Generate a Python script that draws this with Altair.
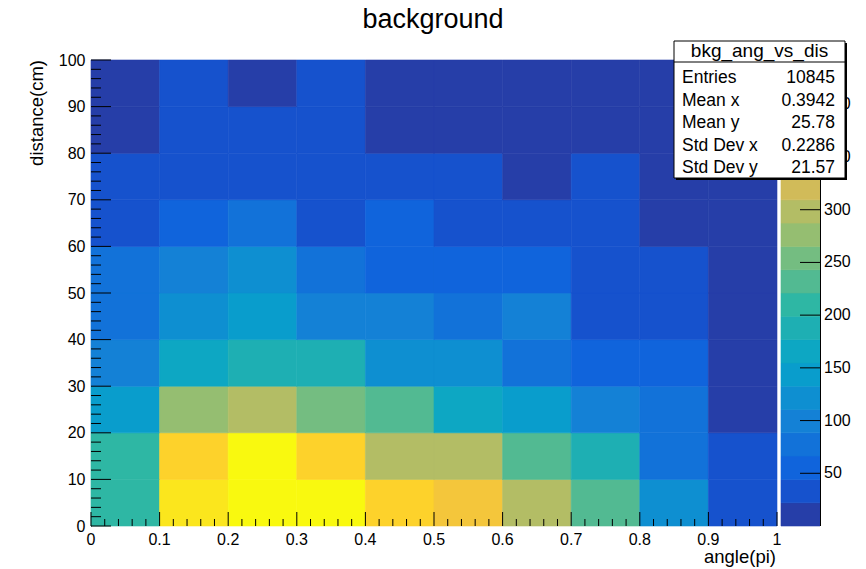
import math
import altair as alt
import pandas as pd

FONT = "Liberation Sans"

# ---- data -------------------------------------------------------------
x_edges = [0.0, 0.1, 0.2, 0.3, 0.4, 0.5, 0.6, 0.7, 0.8, 0.9, 1.0]
y_edges = [0, 10, 20, 30, 40, 50, 60, 70, 80, 90, 100]

# bin contents, rows from distance 0-10 (bottom) up to 90-100 (top)
counts = [
    [212, 410, 442, 428, 385, 362, 300, 233, 120, 31],
    [206, 392, 430, 388, 297, 295, 228, 185, 78, 36],
    [142, 274, 296, 252, 229, 164, 146, 100, 74, 12],
    [98, 168, 186, 190, 122, 118, 76, 52, 57, 10],
    [76, 124, 140, 96, 102, 78, 95, 35, 30, 9],
    [72, 100, 118, 80, 54, 50, 56, 33, 28, 8],
    [38, 52, 74, 40, 50, 36, 38, 33, 15, 7],
    [30, 36, 40, 34, 32, 30, 16, 28, 14, 6],
    [16, 30, 32, 28, 14, 13, 12, 12, 10, 8],
    [14, 26, 18, 30, 13, 11, 10, 10, 9, 7],
]

x_major = [0, 0.1, 0.2, 0.3, 0.4, 0.5, 0.6, 0.7, 0.8, 0.9, 1]
x_labels = ["0", "0.1", "0.2", "0.3", "0.4", "0.5", "0.6", "0.7", "0.8", "0.9", "1"]
x_minor = [0.02, 0.04, 0.06, 0.08, 0.12, 0.14, 0.16, 0.18, 0.22, 0.24, 0.26, 0.28,
           0.32, 0.34, 0.36, 0.38, 0.42, 0.44, 0.46, 0.48, 0.52, 0.54, 0.56, 0.58,
           0.62, 0.64, 0.66, 0.68, 0.72, 0.74, 0.76, 0.78, 0.82, 0.84, 0.86, 0.88,
           0.92, 0.94, 0.96, 0.98]
y_major = [0, 10, 20, 30, 40, 50, 60, 70, 80, 90, 100]
y_minor = [2, 4, 6, 8, 12, 14, 16, 18, 22, 24, 26, 28, 32, 34, 36, 38, 42, 44, 46, 48,
           52, 54, 56, 58, 62, 64, 66, 68, 72, 74, 76, 78, 82, 84, 86, 88, 92, 94, 96, 98]
palette_ticks = [50, 100, 150, 200, 250, 300, 350, 400]
palette_labels = ["50", "100", "150", "200", "250", "300", "350", "400"]

title_text = "background"
x_title = "angle(pi)"
y_title = "distance(cm)"
stats_title = "bkg_ang_vs_dis"
stat_names = ["Entries", "Mean x", "Mean y", "Std Dev x", "Std Dev y"]
stat_values = ["10845", "0.3942", "25.78", "0.2286", "21.57"]

N_LEVELS = 20

# ---- ROOT kBird palette (255 colours), 20 contour levels ----------------
stops = [0.0, 0.125, 0.25, 0.375, 0.5, 0.625, 0.75, 0.875, 1.0]
red = [0.2082, 0.0592, 0.0780, 0.0232, 0.1802, 0.5301, 0.8186, 0.9956, 0.9764]
green = [0.1664, 0.3599, 0.5041, 0.6419, 0.7178, 0.7492, 0.7328, 0.7862, 0.9832]
blue = [0.5293, 0.8684, 0.8385, 0.7914, 0.6425, 0.4662, 0.3499, 0.1968, 0.0539]
table = []
for g in range(1, len(stops)):
    n = math.floor(255 * stops[g]) - math.floor(255 * stops[g - 1])
    for c in range(n):
        r = red[g - 1] + c * (red[g] - red[g - 1]) / n
        gg = green[g - 1] + c * (green[g] - green[g - 1]) / n
        b = blue[g - 1] + c * (blue[g] - blue[g - 1]) / n
        table.append("#%02x%02x%02x" % (round(r * 255), round(gg * 255), round(b * 255)))
level_colors = [table[int((i + 0.99) * len(table) / N_LEVELS)] for i in range(N_LEVELS)]

zmax = max(max(r) for r in counts)
dz = zmax / N_LEVELS

# ---- tables -------------------------------------------------------------
rows = []
for j, row in enumerate(counts):
    for i, v in enumerate(row):
        rows.append({"x0": x_edges[i], "x1": x_edges[i + 1],
                     "y0": y_edges[j], "y1": y_edges[j + 1], "n": v})
df = pd.DataFrame(rows)
pal_df = pd.DataFrame({"lo": [k * dz for k in range(N_LEVELS)],
                       "hi": [(k + 1) * dz for k in range(N_LEVELS)],
                       "mid": [(k + 0.5) * dz for k in range(N_LEVELS)]})
one = pd.DataFrame({"k": [0]})

W, H = 686, 466

cscale = alt.Scale(type="quantize", domain=[0, zmax], range=level_colors, nice=False)
xscale = alt.Scale(domain=[0, 1], nice=False, zero=False)
yscale = alt.Scale(domain=[0, 100], nice=False, zero=False)
zscale = alt.Scale(domain=[0, zmax], nice=False, zero=False)

heat = alt.Chart(df).mark_rect(strokeWidth=0.6).encode(
    x=alt.X("x0:Q", scale=xscale, title=None,
            axis=alt.Axis(values=x_major, grid=False, ticks=False, tickSize=0, labels=False,
                          domainColor="black", domainWidth=1)),
    x2="x1:Q",
    y=alt.Y("y0:Q", scale=yscale, title=None,
            axis=alt.Axis(orient="left", values=y_major, grid=False, ticks=False, tickSize=0,
                          labelPadding=6, labelFontSize=16, labelFont=FONT,
                          labelColor="black", domainColor="black", domainWidth=1,
                          labelFlush=False, labelOverlap=False)),
    y2="y1:Q",
    color=alt.Color("n:Q", scale=cscale, legend=None),
    stroke=alt.Stroke("n:Q", scale=cscale, legend=None),
)

xt_major = alt.Chart(pd.DataFrame({"t": x_major})).mark_rule(color="black", strokeWidth=1).encode(
    x=alt.X("t:Q", scale=xscale, title=None, axis=None),
    y=alt.value(H), y2=alt.value(H - 14))
xt_minor = alt.Chart(pd.DataFrame({"t": x_minor})).mark_rule(color="black", strokeWidth=1).encode(
    x=alt.X("t:Q", scale=xscale, title=None, axis=None),
    y=alt.value(H), y2=alt.value(H - 7))
xt_labels = alt.Chart(pd.DataFrame({"t": x_major, "lab": x_labels})).mark_text(
    font=FONT, fontSize=16, align="center", baseline="alphabetic", color="black").encode(
    x=alt.X("t:Q", scale=xscale, title=None, axis=None),
    text="lab:N", y=alt.value(H + 19))
yt_major = alt.Chart(pd.DataFrame({"t": y_major})).mark_rule(color="black", strokeWidth=1).encode(
    y=alt.Y("t:Q", scale=yscale, title=None, axis=None),
    x=alt.value(0), x2=alt.value(20))
yt_minor = alt.Chart(pd.DataFrame({"t": y_minor})).mark_rule(color="black", strokeWidth=1).encode(
    y=alt.Y("t:Q", scale=yscale, title=None, axis=None),
    x=alt.value(0), x2=alt.value(10))

palette = alt.Chart(pal_df).mark_rect(strokeWidth=0.6).encode(
    x=alt.value(690), x2=alt.value(729),
    y=alt.Y("lo:Q", scale=zscale, title=None, axis=None),
    y2="hi:Q",
    color=alt.Color("mid:Q", scale=cscale, legend=None),
    stroke=alt.Stroke("mid:Q", scale=cscale, legend=None),
)
pal_ticks = alt.Chart(pd.DataFrame({"t": palette_ticks})).mark_rule(
    color="black", strokeWidth=1).encode(
    y=alt.Y("t:Q", scale=zscale, title=None, axis=None),
    x=alt.value(709), x2=alt.value(729))
pal_labels = alt.Chart(pd.DataFrame({"t": palette_ticks, "lab": palette_labels})).mark_text(
    font=FONT, fontSize=16, align="left", baseline="middle", color="black").encode(
    y=alt.Y("t:Q", scale=zscale, title=None, axis=None),
    text="lab:N", x=alt.value(733))
pal_frame = alt.Chart(one).mark_rule(color="black", strokeWidth=1).encode(
    x=alt.value(729.5), y=alt.value(0), y2=alt.value(H))

title = alt.Chart(one).mark_text(text=title_text, font=FONT, fontSize=27, align="center",
                                 baseline="alphabetic", color="black").encode(
    x=alt.value(342), y=alt.value(-32))
xtitle = alt.Chart(one).mark_text(text=x_title, font=FONT, fontSize=18.5, align="right",
                                  baseline="alphabetic", color="black").encode(
    x=alt.value(685), y=alt.value(503))
ytitle = alt.Chart(one).mark_text(text=y_title, font=FONT, fontSize=18.5, align="right",
                                  baseline="alphabetic", angle=270, color="black").encode(
    x=alt.value(-48), y=alt.value(0))

shadow = alt.Chart(one).mark_rect(fill="black").encode(
    x=alt.value(585), x2=alt.value(756), y=alt.value(-17), y2=alt.value(120))
box = alt.Chart(one).mark_rect(fill="white", stroke="black", strokeWidth=1).encode(
    x=alt.value(583), x2=alt.value(754), y=alt.value(-19), y2=alt.value(118))
sep = alt.Chart(one).mark_rule(color="black", strokeWidth=1).encode(
    x=alt.value(583), x2=alt.value(754), y=alt.value(2))
st_title = alt.Chart(one).mark_text(text=stats_title, font=FONT, fontSize=19, align="center",
                                    baseline="alphabetic", color="black").encode(
    x=alt.value(668.5), y=alt.value(-3))
st_names = alt.Chart(one).mark_text(text="\n".join(stat_names), lineBreak="\n", lineHeight=22.5,
                                    font=FONT, fontSize=17.5, align="left",
                                    baseline="alphabetic", color="black").encode(
    x=alt.value(591), y=alt.value(23))
st_vals = alt.Chart(one).mark_text(text="\n".join(stat_values), lineBreak="\n", lineHeight=22.5,
                                   font=FONT, fontSize=17.5, align="right",
                                   baseline="alphabetic", color="black").encode(
    x=alt.value(744), y=alt.value(23))

chart = alt.layer(
    heat, xt_major, xt_minor, xt_labels, yt_major, yt_minor,
    palette, pal_ticks, pal_labels, pal_frame,
    title, xtitle, ytitle, shadow, box, sep, st_title, st_names, st_vals,
).resolve_scale(y="independent").properties(
    width=W, height=H,
    autosize=alt.AutoSizeParams(type="none"),
    padding={"left": 91, "top": 60, "right": 89, "bottom": 43},
    background="white",
).configure_view(stroke=None)

chart.save("out.html", embed_options={"renderer": "svg", "actions": False})
